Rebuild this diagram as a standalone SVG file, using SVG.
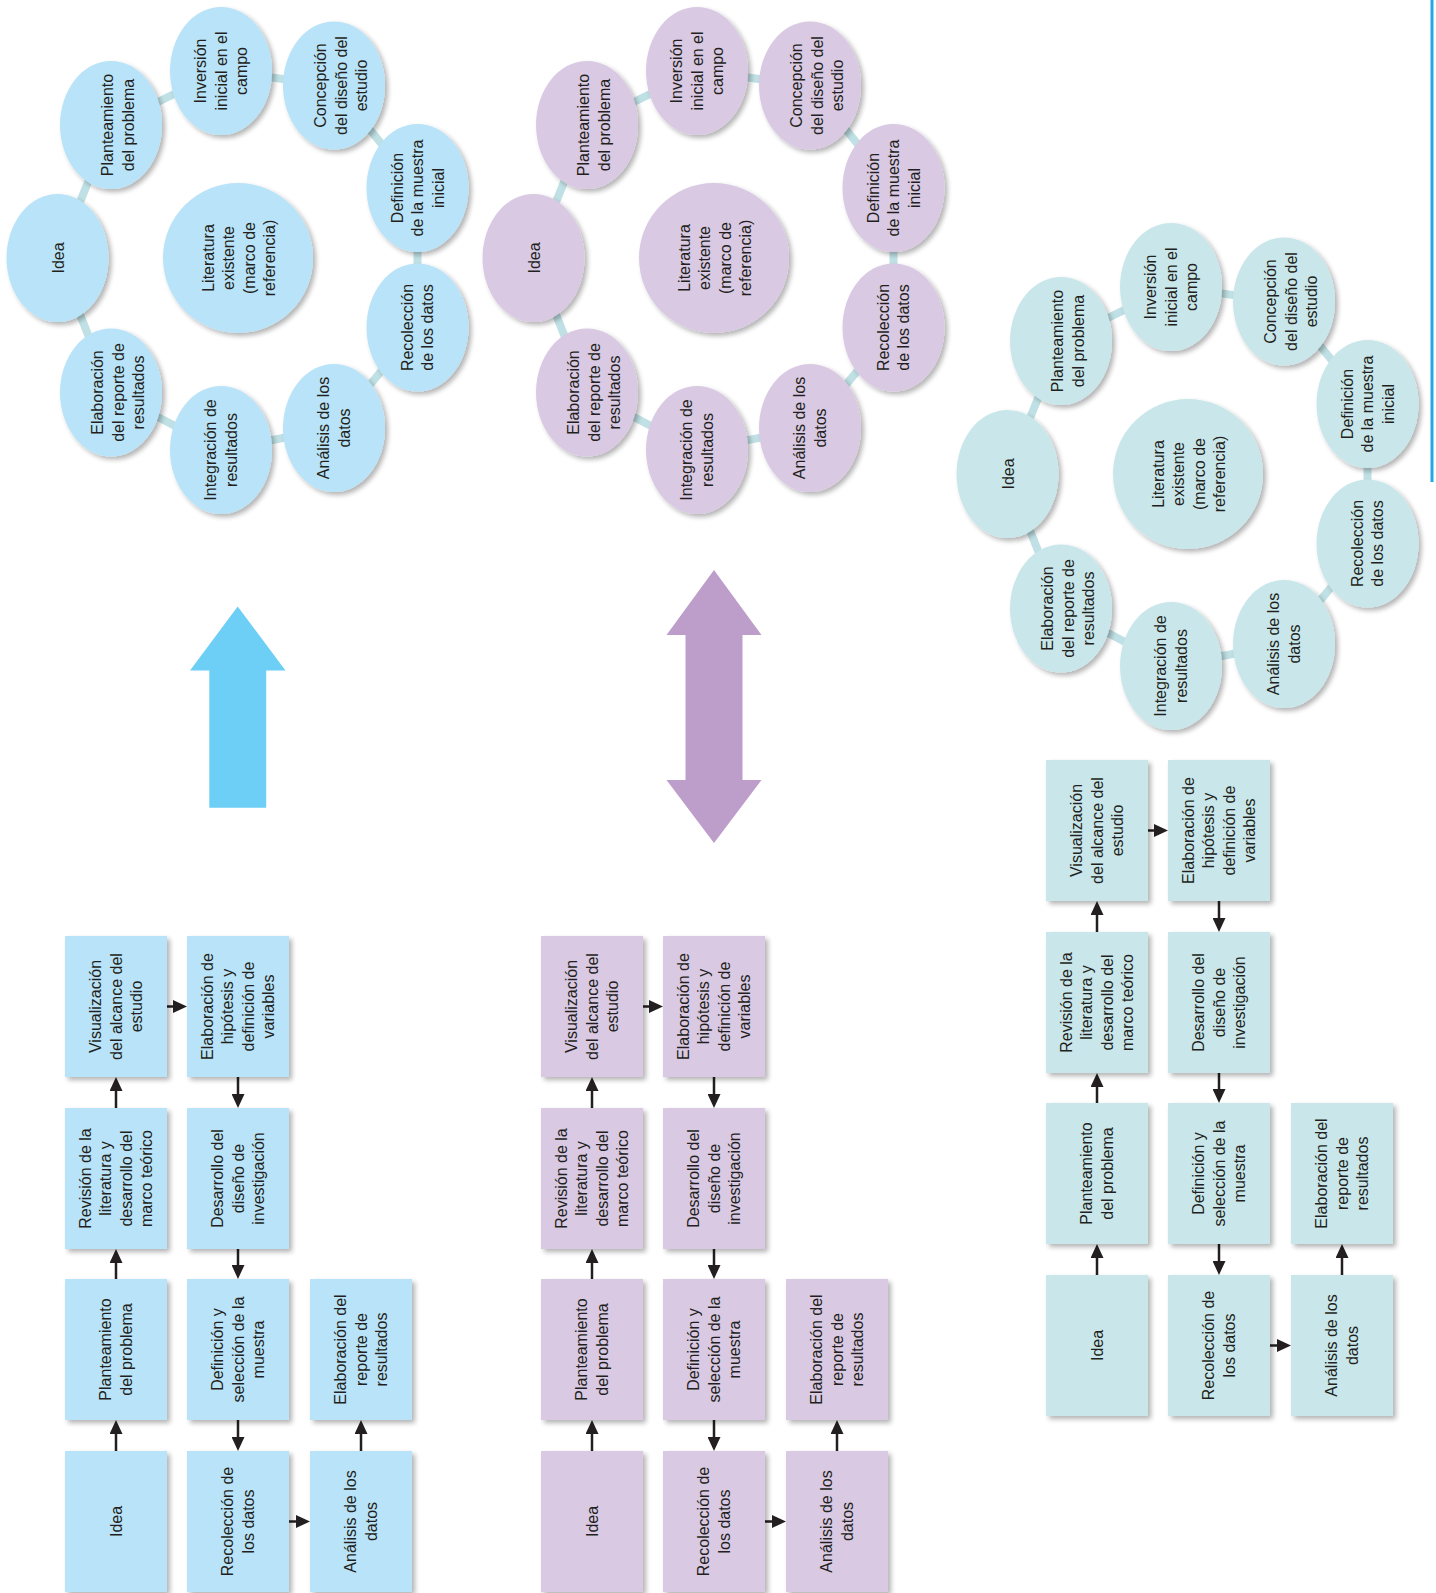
<svg xmlns="http://www.w3.org/2000/svg" width="1436" height="1593" viewBox="0 0 1436 1593">
<defs>
<style>
.t{font-family:"Liberation Sans",Arial,sans-serif;font-size:16px;fill:#231f20;text-anchor:middle}
.bl{fill:#b9e3f8;filter:url(#sh)}
.pu{fill:#d9c9e3;filter:url(#sh)}
.te{fill:#c9e7eb;filter:url(#sh)}
.ring{stroke:#bfe0e4;stroke-width:8;fill:none}
.arr{stroke:#231f20;stroke-width:2.5;fill:none;marker-end:url(#ah)}
</style>
<filter id="sh" x="-20%" y="-20%" width="150%" height="150%">
<feGaussianBlur in="SourceAlpha" stdDeviation="2.5"/>
<feOffset dx="3" dy="3"/>
<feComponentTransfer><feFuncA type="linear" slope="0.3"/></feComponentTransfer>
<feMerge><feMergeNode/><feMergeNode in="SourceGraphic"/></feMerge>
</filter>
<marker id="ah" viewBox="0 0 14 13" refX="4" refY="6.5" markerWidth="14" markerHeight="13" markerUnits="userSpaceOnUse" orient="auto"><path d="M0,0L14,6.5L0,13z" fill="#231f20"/></marker>
</defs>
<rect width="1436" height="1593" fill="#ffffff"/>

<g id="connectors">
<g id="ring-left" class="ring">
<line x1="57.5" y1="258" x2="111" y2="125"/><line x1="111" y1="125" x2="221" y2="71"/><line x1="221" y1="71" x2="334" y2="85.5"/><line x1="334" y1="85.5" x2="417.5" y2="188"/><line x1="417.5" y1="188" x2="417.5" y2="327.5"/><line x1="417.5" y1="327.5" x2="334" y2="428"/><line x1="334" y1="428" x2="221" y2="450"/><line x1="221" y1="450" x2="111" y2="392.5"/><line x1="111" y1="392.5" x2="57.5" y2="258"/>
</g>
<g id="ring-mid" class="ring">
<line x1="533.5" y1="258" x2="587" y2="125"/><line x1="587" y1="125" x2="697" y2="71"/><line x1="697" y1="71" x2="810" y2="85.5"/><line x1="810" y1="85.5" x2="893.5" y2="188"/><line x1="893.5" y1="188" x2="893.5" y2="327.5"/><line x1="893.5" y1="327.5" x2="810" y2="428"/><line x1="810" y1="428" x2="697" y2="450"/><line x1="697" y1="450" x2="587" y2="392.5"/><line x1="587" y1="392.5" x2="533.5" y2="258"/>
</g>
<g id="ring-right" class="ring">
<line x1="1007.5" y1="474" x2="1061" y2="341"/><line x1="1061" y1="341" x2="1171" y2="287"/><line x1="1171" y1="287" x2="1284" y2="301.5"/><line x1="1284" y1="301.5" x2="1367.5" y2="404"/><line x1="1367.5" y1="404" x2="1367.5" y2="543.5"/><line x1="1367.5" y1="543.5" x2="1284" y2="644"/><line x1="1284" y1="644" x2="1171" y2="666"/><line x1="1171" y1="666" x2="1061" y2="608.5"/><line x1="1061" y1="608.5" x2="1007.5" y2="474"/>
</g>
<g id="arrows-left" class="arr">
<path d="M116,1451V1430"/><path d="M116,1279V1259"/><path d="M116,1108V1087"/><path d="M167,1006.5H177"/><path d="M238,1077V1098"/><path d="M238,1249V1269"/><path d="M238,1420V1441"/><path d="M289,1521.5H300"/><path d="M361,1451V1430"/>
</g>
<g id="arrows-mid" class="arr">
<path d="M592,1451V1430"/><path d="M592,1279V1259"/><path d="M592,1108V1087"/><path d="M643,1006.5H653"/><path d="M714,1077V1098"/><path d="M714,1249V1269"/><path d="M714,1420V1441"/><path d="M765,1521.5H776"/><path d="M837,1451V1430"/>
</g>
<g id="arrows-right" class="arr">
<path d="M1097,1275V1254"/><path d="M1097,1103V1083"/><path d="M1097,932V911"/><path d="M1148,830.5H1158"/><path d="M1219,901V922"/><path d="M1219,1073V1093"/><path d="M1219,1244V1265"/><path d="M1270,1345.5H1281"/><path d="M1342,1275V1254"/>
</g>
</g>

<!-- LEFT PANEL CIRCLES -->
<g id="L-c-idea"><ellipse class="bl" cx="57.5" cy="258" rx="51" ry="64"/><text class="t" transform="translate(58.5,258) rotate(-90)"><tspan x="0" dy="5.7">Idea</tspan></text></g>
<g id="L-c-plan"><ellipse class="bl" cx="111" cy="125" rx="51" ry="64"/><text class="t" transform="translate(118,125) rotate(-90)"><tspan x="0" dy="-4.55">Planteamiento</tspan><tspan x="0" dy="20.5">del problema</tspan></text></g>
<g id="L-c-inv"><ellipse class="bl" cx="221" cy="71" rx="51" ry="64"/><text class="t" transform="translate(221,71) rotate(-90)"><tspan x="0" dy="-14.8">Inversión</tspan><tspan x="0" dy="20.5">inicial en el</tspan><tspan x="0" dy="20.5">campo</tspan></text></g>
<g id="L-c-conc"><ellipse class="bl" cx="334" cy="85.5" rx="51" ry="64"/><text class="t" transform="translate(341,85.5) rotate(-90)"><tspan x="0" dy="-14.8">Concepción</tspan><tspan x="0" dy="20.5">del diseño del</tspan><tspan x="0" dy="20.5">estudio</tspan></text></g>
<g id="L-c-def"><ellipse class="bl" cx="417.5" cy="188" rx="51" ry="64"/><text class="t" transform="translate(417.5,188) rotate(-90)"><tspan x="0" dy="-14.8">Definición</tspan><tspan x="0" dy="20.5">de la muestra</tspan><tspan x="0" dy="20.5">inicial</tspan></text></g>
<g id="L-c-rec"><ellipse class="bl" cx="417.5" cy="327.5" rx="51" ry="64"/><text class="t" transform="translate(417.5,327.5) rotate(-90)"><tspan x="0" dy="-4.55">Recolección</tspan><tspan x="0" dy="20.5">de los datos</tspan></text></g>
<g id="L-c-ana"><ellipse class="bl" cx="334" cy="428" rx="51" ry="64"/><text class="t" transform="translate(334,428) rotate(-90)"><tspan x="0" dy="-4.55">Análisis de los</tspan><tspan x="0" dy="20.5">datos</tspan></text></g>
<g id="L-c-integ"><ellipse class="bl" cx="221" cy="450" rx="51" ry="64"/><text class="t" transform="translate(221,450) rotate(-90)"><tspan x="0" dy="-4.55">Integración de</tspan><tspan x="0" dy="20.5">resultados</tspan></text></g>
<g id="L-c-elab"><ellipse class="bl" cx="111" cy="392.5" rx="51" ry="64"/><text class="t" transform="translate(118,392.5) rotate(-90)"><tspan x="0" dy="-14.8">Elaboración</tspan><tspan x="0" dy="20.5">del reporte de</tspan><tspan x="0" dy="20.5">resultados</tspan></text></g>
<g id="L-c-lit"><circle class="bl" cx="238" cy="258" r="75"/><text class="t" transform="translate(239,258) rotate(-90)"><tspan x="0" dy="-25.05">Literatura</tspan><tspan x="0" dy="20.5">existente</tspan><tspan x="0" dy="20.5">(marco de</tspan><tspan x="0" dy="20.5">referencia)</tspan></text></g>

<!-- MIDDLE PANEL CIRCLES -->
<g id="M-c-idea"><ellipse class="pu" cx="533.5" cy="258" rx="51" ry="64"/><text class="t" transform="translate(534.5,258) rotate(-90)"><tspan x="0" dy="5.7">Idea</tspan></text></g>
<g id="M-c-plan"><ellipse class="pu" cx="587" cy="125" rx="51" ry="64"/><text class="t" transform="translate(594,125) rotate(-90)"><tspan x="0" dy="-4.55">Planteamiento</tspan><tspan x="0" dy="20.5">del problema</tspan></text></g>
<g id="M-c-inv"><ellipse class="pu" cx="697" cy="71" rx="51" ry="64"/><text class="t" transform="translate(697,71) rotate(-90)"><tspan x="0" dy="-14.8">Inversión</tspan><tspan x="0" dy="20.5">inicial en el</tspan><tspan x="0" dy="20.5">campo</tspan></text></g>
<g id="M-c-conc"><ellipse class="pu" cx="810" cy="85.5" rx="51" ry="64"/><text class="t" transform="translate(817,85.5) rotate(-90)"><tspan x="0" dy="-14.8">Concepción</tspan><tspan x="0" dy="20.5">del diseño del</tspan><tspan x="0" dy="20.5">estudio</tspan></text></g>
<g id="M-c-def"><ellipse class="pu" cx="893.5" cy="188" rx="51" ry="64"/><text class="t" transform="translate(893.5,188) rotate(-90)"><tspan x="0" dy="-14.8">Definición</tspan><tspan x="0" dy="20.5">de la muestra</tspan><tspan x="0" dy="20.5">inicial</tspan></text></g>
<g id="M-c-rec"><ellipse class="pu" cx="893.5" cy="327.5" rx="51" ry="64"/><text class="t" transform="translate(893.5,327.5) rotate(-90)"><tspan x="0" dy="-4.55">Recolección</tspan><tspan x="0" dy="20.5">de los datos</tspan></text></g>
<g id="M-c-ana"><ellipse class="pu" cx="810" cy="428" rx="51" ry="64"/><text class="t" transform="translate(810,428) rotate(-90)"><tspan x="0" dy="-4.55">Análisis de los</tspan><tspan x="0" dy="20.5">datos</tspan></text></g>
<g id="M-c-integ"><ellipse class="pu" cx="697" cy="450" rx="51" ry="64"/><text class="t" transform="translate(697,450) rotate(-90)"><tspan x="0" dy="-4.55">Integración de</tspan><tspan x="0" dy="20.5">resultados</tspan></text></g>
<g id="M-c-elab"><ellipse class="pu" cx="587" cy="392.5" rx="51" ry="64"/><text class="t" transform="translate(594,392.5) rotate(-90)"><tspan x="0" dy="-14.8">Elaboración</tspan><tspan x="0" dy="20.5">del reporte de</tspan><tspan x="0" dy="20.5">resultados</tspan></text></g>
<g id="M-c-lit"><circle class="pu" cx="714" cy="258" r="75"/><text class="t" transform="translate(715,258) rotate(-90)"><tspan x="0" dy="-25.05">Literatura</tspan><tspan x="0" dy="20.5">existente</tspan><tspan x="0" dy="20.5">(marco de</tspan><tspan x="0" dy="20.5">referencia)</tspan></text></g>

<!-- RIGHT PANEL CIRCLES -->
<g id="R-c-idea"><ellipse class="te" cx="1007.5" cy="474" rx="51" ry="64"/><text class="t" transform="translate(1008.5,474) rotate(-90)"><tspan x="0" dy="5.7">Idea</tspan></text></g>
<g id="R-c-plan"><ellipse class="te" cx="1061" cy="341" rx="51" ry="64"/><text class="t" transform="translate(1068,341) rotate(-90)"><tspan x="0" dy="-4.55">Planteamiento</tspan><tspan x="0" dy="20.5">del problema</tspan></text></g>
<g id="R-c-inv"><ellipse class="te" cx="1171" cy="287" rx="51" ry="64"/><text class="t" transform="translate(1171,287) rotate(-90)"><tspan x="0" dy="-14.8">Inversión</tspan><tspan x="0" dy="20.5">inicial en el</tspan><tspan x="0" dy="20.5">campo</tspan></text></g>
<g id="R-c-conc"><ellipse class="te" cx="1284" cy="301.5" rx="51" ry="64"/><text class="t" transform="translate(1291,301.5) rotate(-90)"><tspan x="0" dy="-14.8">Concepción</tspan><tspan x="0" dy="20.5">del diseño del</tspan><tspan x="0" dy="20.5">estudio</tspan></text></g>
<g id="R-c-def"><ellipse class="te" cx="1367.5" cy="404" rx="51" ry="64"/><text class="t" transform="translate(1367.5,404) rotate(-90)"><tspan x="0" dy="-14.8">Definición</tspan><tspan x="0" dy="20.5">de la muestra</tspan><tspan x="0" dy="20.5">inicial</tspan></text></g>
<g id="R-c-rec"><ellipse class="te" cx="1367.5" cy="543.5" rx="51" ry="64"/><text class="t" transform="translate(1367.5,543.5) rotate(-90)"><tspan x="0" dy="-4.55">Recolección</tspan><tspan x="0" dy="20.5">de los datos</tspan></text></g>
<g id="R-c-ana"><ellipse class="te" cx="1284" cy="644" rx="51" ry="64"/><text class="t" transform="translate(1284,644) rotate(-90)"><tspan x="0" dy="-4.55">Análisis de los</tspan><tspan x="0" dy="20.5">datos</tspan></text></g>
<g id="R-c-integ"><ellipse class="te" cx="1171" cy="666" rx="51" ry="64"/><text class="t" transform="translate(1171,666) rotate(-90)"><tspan x="0" dy="-4.55">Integración de</tspan><tspan x="0" dy="20.5">resultados</tspan></text></g>
<g id="R-c-elab"><ellipse class="te" cx="1061" cy="608.5" rx="51" ry="64"/><text class="t" transform="translate(1068,608.5) rotate(-90)"><tspan x="0" dy="-14.8">Elaboración</tspan><tspan x="0" dy="20.5">del reporte de</tspan><tspan x="0" dy="20.5">resultados</tspan></text></g>
<g id="R-c-lit"><circle class="te" cx="1188" cy="474" r="75"/><text class="t" transform="translate(1189,474) rotate(-90)"><tspan x="0" dy="-25.05">Literatura</tspan><tspan x="0" dy="20.5">existente</tspan><tspan x="0" dy="20.5">(marco de</tspan><tspan x="0" dy="20.5">referencia)</tspan></text></g>

<!-- BIG ARROWS -->
<g id="arrow-up"><polygon points="237.7,606.5 285.5,670.5 266.2,670.5 266.2,807.7 209.3,807.7 209.3,670.5 190,670.5" fill="#6dcff6"/></g>
<g id="arrow-both"><polygon points="714,570 761.5,635 742.5,635 742.5,780 761.5,780 714,843 666.5,780 685.5,780 685.5,635 666.5,635" fill="#bd9dca"/></g>

<!-- RIGHT EDGE LINE -->
<line x1="1432" y1="0" x2="1432" y2="482" stroke="#23a8e6" stroke-width="3"/>

<!-- LEFT PANEL BOXES -->
<g id="L-b-vis"><rect class="bl" x="65" y="936" width="102" height="141"/><text class="t" transform="translate(116,1006.5) rotate(-90)"><tspan x="0" dy="-14.8">Visualización</tspan><tspan x="0" dy="20.5">del alcance del</tspan><tspan x="0" dy="20.5">estudio</tspan></text></g>
<g id="L-b-rev"><rect class="bl" x="65" y="1108" width="102" height="141"/><text class="t" transform="translate(116,1178.5) rotate(-90)"><tspan x="0" dy="-25.05">Revisión de la</tspan><tspan x="0" dy="20.5">literatura y</tspan><tspan x="0" dy="20.5">desarrollo del</tspan><tspan x="0" dy="20.5">marco teórico</tspan></text></g>
<g id="L-b-plan"><rect class="bl" x="65" y="1279" width="102" height="141"/><text class="t" transform="translate(116,1349.5) rotate(-90)"><tspan x="0" dy="-4.55">Planteamiento</tspan><tspan x="0" dy="20.5">del problema</tspan></text></g>
<g id="L-b-idea"><rect class="bl" x="65" y="1451" width="102" height="141"/><text class="t" transform="translate(116,1521.5) rotate(-90)"><tspan x="0" dy="5.7">Idea</tspan></text></g>
<g id="L-b-hip"><rect class="bl" x="187" y="936" width="102" height="141"/><text class="t" transform="translate(238,1006.5) rotate(-90)"><tspan x="0" dy="-25.05">Elaboración de</tspan><tspan x="0" dy="20.5">hipótesis y</tspan><tspan x="0" dy="20.5">definición de</tspan><tspan x="0" dy="20.5">variables</tspan></text></g>
<g id="L-b-des"><rect class="bl" x="187" y="1108" width="102" height="141"/><text class="t" transform="translate(238,1178.5) rotate(-90)"><tspan x="0" dy="-14.8">Desarrollo del</tspan><tspan x="0" dy="20.5">diseño de</tspan><tspan x="0" dy="20.5">investigación</tspan></text></g>
<g id="L-b-def"><rect class="bl" x="187" y="1279" width="102" height="141"/><text class="t" transform="translate(238,1349.5) rotate(-90)"><tspan x="0" dy="-14.8">Definición y</tspan><tspan x="0" dy="20.5">selección de la</tspan><tspan x="0" dy="20.5">muestra</tspan></text></g>
<g id="L-b-rec"><rect class="bl" x="187" y="1451" width="102" height="141"/><text class="t" transform="translate(238,1521.5) rotate(-90)"><tspan x="0" dy="-4.55">Recolección de</tspan><tspan x="0" dy="20.5">los datos</tspan></text></g>
<g id="L-b-rep"><rect class="bl" x="310" y="1279" width="102" height="141"/><text class="t" transform="translate(361,1349.5) rotate(-90)"><tspan x="0" dy="-14.8">Elaboración del</tspan><tspan x="0" dy="20.5">reporte de</tspan><tspan x="0" dy="20.5">resultados</tspan></text></g>
<g id="L-b-ana"><rect class="bl" x="310" y="1451" width="102" height="141"/><text class="t" transform="translate(361,1521.5) rotate(-90)"><tspan x="0" dy="-4.55">Análisis de los</tspan><tspan x="0" dy="20.5">datos</tspan></text></g>

<!-- MIDDLE PANEL BOXES -->
<g id="M-b-vis"><rect class="pu" x="541" y="936" width="102" height="141"/><text class="t" transform="translate(592,1006.5) rotate(-90)"><tspan x="0" dy="-14.8">Visualización</tspan><tspan x="0" dy="20.5">del alcance del</tspan><tspan x="0" dy="20.5">estudio</tspan></text></g>
<g id="M-b-rev"><rect class="pu" x="541" y="1108" width="102" height="141"/><text class="t" transform="translate(592,1178.5) rotate(-90)"><tspan x="0" dy="-25.05">Revisión de la</tspan><tspan x="0" dy="20.5">literatura y</tspan><tspan x="0" dy="20.5">desarrollo del</tspan><tspan x="0" dy="20.5">marco teórico</tspan></text></g>
<g id="M-b-plan"><rect class="pu" x="541" y="1279" width="102" height="141"/><text class="t" transform="translate(592,1349.5) rotate(-90)"><tspan x="0" dy="-4.55">Planteamiento</tspan><tspan x="0" dy="20.5">del problema</tspan></text></g>
<g id="M-b-idea"><rect class="pu" x="541" y="1451" width="102" height="141"/><text class="t" transform="translate(592,1521.5) rotate(-90)"><tspan x="0" dy="5.7">Idea</tspan></text></g>
<g id="M-b-hip"><rect class="pu" x="663" y="936" width="102" height="141"/><text class="t" transform="translate(714,1006.5) rotate(-90)"><tspan x="0" dy="-25.05">Elaboración de</tspan><tspan x="0" dy="20.5">hipótesis y</tspan><tspan x="0" dy="20.5">definición de</tspan><tspan x="0" dy="20.5">variables</tspan></text></g>
<g id="M-b-des"><rect class="pu" x="663" y="1108" width="102" height="141"/><text class="t" transform="translate(714,1178.5) rotate(-90)"><tspan x="0" dy="-14.8">Desarrollo del</tspan><tspan x="0" dy="20.5">diseño de</tspan><tspan x="0" dy="20.5">investigación</tspan></text></g>
<g id="M-b-def"><rect class="pu" x="663" y="1279" width="102" height="141"/><text class="t" transform="translate(714,1349.5) rotate(-90)"><tspan x="0" dy="-14.8">Definición y</tspan><tspan x="0" dy="20.5">selección de la</tspan><tspan x="0" dy="20.5">muestra</tspan></text></g>
<g id="M-b-rec"><rect class="pu" x="663" y="1451" width="102" height="141"/><text class="t" transform="translate(714,1521.5) rotate(-90)"><tspan x="0" dy="-4.55">Recolección de</tspan><tspan x="0" dy="20.5">los datos</tspan></text></g>
<g id="M-b-rep"><rect class="pu" x="786" y="1279" width="102" height="141"/><text class="t" transform="translate(837,1349.5) rotate(-90)"><tspan x="0" dy="-14.8">Elaboración del</tspan><tspan x="0" dy="20.5">reporte de</tspan><tspan x="0" dy="20.5">resultados</tspan></text></g>
<g id="M-b-ana"><rect class="pu" x="786" y="1451" width="102" height="141"/><text class="t" transform="translate(837,1521.5) rotate(-90)"><tspan x="0" dy="-4.55">Análisis de los</tspan><tspan x="0" dy="20.5">datos</tspan></text></g>

<!-- RIGHT PANEL BOXES -->
<g id="R-b-vis"><rect class="te" x="1046" y="760" width="102" height="141"/><text class="t" transform="translate(1097,830.5) rotate(-90)"><tspan x="0" dy="-14.8">Visualización</tspan><tspan x="0" dy="20.5">del alcance del</tspan><tspan x="0" dy="20.5">estudio</tspan></text></g>
<g id="R-b-rev"><rect class="te" x="1046" y="932" width="102" height="141"/><text class="t" transform="translate(1097,1002.5) rotate(-90)"><tspan x="0" dy="-25.05">Revisión de la</tspan><tspan x="0" dy="20.5">literatura y</tspan><tspan x="0" dy="20.5">desarrollo del</tspan><tspan x="0" dy="20.5">marco teórico</tspan></text></g>
<g id="R-b-plan"><rect class="te" x="1046" y="1103" width="102" height="141"/><text class="t" transform="translate(1097,1173.5) rotate(-90)"><tspan x="0" dy="-4.55">Planteamiento</tspan><tspan x="0" dy="20.5">del problema</tspan></text></g>
<g id="R-b-idea"><rect class="te" x="1046" y="1275" width="102" height="141"/><text class="t" transform="translate(1097,1345.5) rotate(-90)"><tspan x="0" dy="5.7">Idea</tspan></text></g>
<g id="R-b-hip"><rect class="te" x="1168" y="760" width="102" height="141"/><text class="t" transform="translate(1219,830.5) rotate(-90)"><tspan x="0" dy="-25.05">Elaboración de</tspan><tspan x="0" dy="20.5">hipótesis y</tspan><tspan x="0" dy="20.5">definición de</tspan><tspan x="0" dy="20.5">variables</tspan></text></g>
<g id="R-b-des"><rect class="te" x="1168" y="932" width="102" height="141"/><text class="t" transform="translate(1219,1002.5) rotate(-90)"><tspan x="0" dy="-14.8">Desarrollo del</tspan><tspan x="0" dy="20.5">diseño de</tspan><tspan x="0" dy="20.5">investigación</tspan></text></g>
<g id="R-b-def"><rect class="te" x="1168" y="1103" width="102" height="141"/><text class="t" transform="translate(1219,1173.5) rotate(-90)"><tspan x="0" dy="-14.8">Definición y</tspan><tspan x="0" dy="20.5">selección de la</tspan><tspan x="0" dy="20.5">muestra</tspan></text></g>
<g id="R-b-rec"><rect class="te" x="1168" y="1275" width="102" height="141"/><text class="t" transform="translate(1219,1345.5) rotate(-90)"><tspan x="0" dy="-4.55">Recolección de</tspan><tspan x="0" dy="20.5">los datos</tspan></text></g>
<g id="R-b-rep"><rect class="te" x="1291" y="1103" width="102" height="141"/><text class="t" transform="translate(1342,1173.5) rotate(-90)"><tspan x="0" dy="-14.8">Elaboración del</tspan><tspan x="0" dy="20.5">reporte de</tspan><tspan x="0" dy="20.5">resultados</tspan></text></g>
<g id="R-b-ana"><rect class="te" x="1291" y="1275" width="102" height="141"/><text class="t" transform="translate(1342,1345.5) rotate(-90)"><tspan x="0" dy="-4.55">Análisis de los</tspan><tspan x="0" dy="20.5">datos</tspan></text></g>
</svg>
